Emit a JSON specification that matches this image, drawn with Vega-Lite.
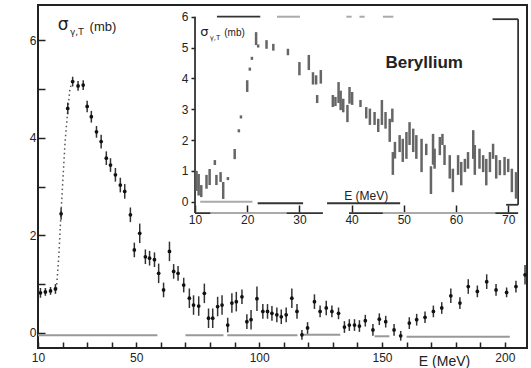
{
  "$schema": "https://vega.github.io/schema/vega-lite/v6.json",
  "width": 489,
  "height": 343,
  "autosize": {"type": "none"},
  "padding": {"left": 38, "top": 5, "right": 4, "bottom": 20},
  "background": "white",
  "config": {
    "view": {"stroke": "#222", "strokeWidth": 2},
    "axis": {"grid": false, "domain": false, "labelFont": "Liberation Sans", "labelFontSize": 12, "labelColor": "#222", "tickColor": "#222", "tickWidth": 1.5, "labelFlush": false, "labelOverlap": false, "labelBound": false}
  },
  "datasets": {
    "main": [
      {"E": 11.0, "y": 0.82, "lo": 0.72, "hi": 0.92}, {"E": 13.0, "y": 0.84, "lo": 0.76, "hi": 0.92},
      {"E": 15.1, "y": 0.86, "lo": 0.78, "hi": 0.94}, {"E": 17.1, "y": 0.9, "lo": 0.8, "hi": 1.0},
      {"E": 19.4, "y": 2.44, "lo": 2.32, "hi": 2.56}, {"E": 22.1, "y": 4.6, "lo": 4.48, "hi": 4.72},
      {"E": 24.1, "y": 5.15, "lo": 5.05, "hi": 5.25}, {"E": 26.3, "y": 5.06, "lo": 4.96, "hi": 5.16},
      {"E": 28.4, "y": 5.08, "lo": 4.98, "hi": 5.18}, {"E": 30.0, "y": 4.64, "lo": 4.52, "hi": 4.76},
      {"E": 31.7, "y": 4.43, "lo": 4.31, "hi": 4.55}, {"E": 33.8, "y": 4.12, "lo": 4.0, "hi": 4.24},
      {"E": 35.7, "y": 3.92, "lo": 3.78, "hi": 4.06}, {"E": 37.8, "y": 3.58, "lo": 3.44, "hi": 3.72},
      {"E": 39.5, "y": 3.44, "lo": 3.3, "hi": 3.58}, {"E": 41.5, "y": 3.24, "lo": 3.1, "hi": 3.38},
      {"E": 43.5, "y": 3.03, "lo": 2.88, "hi": 3.18}, {"E": 45.3, "y": 2.9, "lo": 2.75, "hi": 3.05},
      {"E": 47.6, "y": 2.42, "lo": 2.27, "hi": 2.57}, {"E": 49.2, "y": 1.7, "lo": 1.55, "hi": 1.85},
      {"E": 51.4, "y": 2.04, "lo": 1.84, "hi": 2.24}, {"E": 53.7, "y": 1.56, "lo": 1.41, "hi": 1.71},
      {"E": 55.4, "y": 1.53, "lo": 1.38, "hi": 1.68}, {"E": 57.4, "y": 1.5, "lo": 1.35, "hi": 1.65},
      {"E": 59.1, "y": 1.22, "lo": 1.02, "hi": 1.42}, {"E": 61.1, "y": 0.88, "lo": 0.73, "hi": 1.03},
      {"E": 63.5, "y": 1.67, "lo": 1.47, "hi": 1.87}, {"E": 65.2, "y": 1.26, "lo": 1.11, "hi": 1.41},
      {"E": 67.0, "y": 1.22, "lo": 1.07, "hi": 1.37}, {"E": 69.3, "y": 0.98, "lo": 0.83, "hi": 1.13},
      {"E": 71.6, "y": 0.71, "lo": 0.51, "hi": 0.91}, {"E": 73.3, "y": 0.57, "lo": 0.37, "hi": 0.77},
      {"E": 75.4, "y": 0.55, "lo": 0.35, "hi": 0.75}, {"E": 77.7, "y": 0.81, "lo": 0.61, "hi": 1.01},
      {"E": 79.4, "y": 0.3, "lo": 0.1, "hi": 0.5}, {"E": 81.1, "y": 0.3, "lo": 0.1, "hi": 0.5},
      {"E": 83.1, "y": 0.54, "lo": 0.34, "hi": 0.74}, {"E": 84.9, "y": 0.57, "lo": 0.37, "hi": 0.77},
      {"E": 87.2, "y": 0.16, "lo": 0.01, "hi": 0.31}, {"E": 88.9, "y": 0.61, "lo": 0.41, "hi": 0.81},
      {"E": 90.7, "y": 0.64, "lo": 0.44, "hi": 0.84}, {"E": 93.0, "y": 0.74, "lo": 0.59, "hi": 0.89},
      {"E": 95.0, "y": 0.23, "lo": 0.08, "hi": 0.38}, {"E": 96.7, "y": 0.27, "lo": 0.07, "hi": 0.47},
      {"E": 99.1, "y": 0.7, "lo": 0.45, "hi": 0.95}, {"E": 101.5, "y": 0.44, "lo": 0.29, "hi": 0.59},
      {"E": 103.4, "y": 0.44, "lo": 0.29, "hi": 0.59}, {"E": 105.2, "y": 0.4, "lo": 0.25, "hi": 0.55},
      {"E": 107.2, "y": 0.37, "lo": 0.22, "hi": 0.52}, {"E": 109.0, "y": 0.33, "lo": 0.18, "hi": 0.48},
      {"E": 111.0, "y": 0.37, "lo": 0.22, "hi": 0.52}, {"E": 113.3, "y": 0.71, "lo": 0.51, "hi": 0.91},
      {"E": 115.4, "y": 0.44, "lo": 0.29, "hi": 0.59}, {"E": 117.4, "y": -0.04, "lo": -0.14, "hi": 0.06},
      {"E": 119.7, "y": 0.1, "lo": -0.02, "hi": 0.22}, {"E": 122.5, "y": 0.64, "lo": 0.49, "hi": 0.79},
      {"E": 124.8, "y": 0.44, "lo": 0.32, "hi": 0.56}, {"E": 127.3, "y": 0.51, "lo": 0.36, "hi": 0.66},
      {"E": 129.6, "y": 0.44, "lo": 0.32, "hi": 0.56}, {"E": 132.3, "y": 0.4, "lo": 0.28, "hi": 0.52},
      {"E": 134.7, "y": 0.12, "lo": 0.0, "hi": 0.24}, {"E": 136.7, "y": 0.16, "lo": 0.04, "hi": 0.28},
      {"E": 138.8, "y": 0.16, "lo": 0.04, "hi": 0.28}, {"E": 140.8, "y": 0.14, "lo": 0.02, "hi": 0.26},
      {"E": 143.2, "y": 0.25, "lo": 0.13, "hi": 0.37}, {"E": 146.3, "y": 0.06, "lo": -0.06, "hi": 0.18},
      {"E": 148.9, "y": 0.28, "lo": 0.16, "hi": 0.4}, {"E": 151.5, "y": 0.23, "lo": 0.11, "hi": 0.35},
      {"E": 154.9, "y": 0.06, "lo": -0.06, "hi": 0.18}, {"E": 157.6, "y": -0.06, "lo": -0.16, "hi": 0.04},
      {"E": 161.1, "y": 0.2, "lo": 0.08, "hi": 0.32}, {"E": 164.1, "y": 0.27, "lo": 0.15, "hi": 0.39},
      {"E": 167.5, "y": 0.32, "lo": 0.2, "hi": 0.44}, {"E": 170.9, "y": 0.44, "lo": 0.32, "hi": 0.56},
      {"E": 174.3, "y": 0.51, "lo": 0.39, "hi": 0.63}, {"E": 178.0, "y": 0.76, "lo": 0.61, "hi": 0.91},
      {"E": 181.7, "y": 0.61, "lo": 0.49, "hi": 0.73}, {"E": 185.1, "y": 0.95, "lo": 0.8, "hi": 1.1},
      {"E": 188.8, "y": 0.85, "lo": 0.73, "hi": 0.97}, {"E": 192.6, "y": 1.05, "lo": 0.9, "hi": 1.2},
      {"E": 196.4, "y": 0.88, "lo": 0.76, "hi": 1.0}, {"E": 200.7, "y": 0.83, "lo": 0.73, "hi": 0.93},
      {"E": 204.5, "y": 0.95, "lo": 0.83, "hi": 1.07}, {"E": 208.2, "y": 1.19, "lo": 0.99, "hi": 1.39}
    ],
    "curve": [
      {"E": 17.5, "y": 0.9}, {"E": 18.5, "y": 1.6}, {"E": 19.3, "y": 2.4}, {"E": 20.2, "y": 3.2},
      {"E": 21.0, "y": 3.9}, {"E": 22.0, "y": 4.5}, {"E": 23.0, "y": 5.0}, {"E": 24.2, "y": 5.2}
    ],
    "base": [
      {"E1": 10, "E2": 58.6, "level": -0.05}, {"E1": 70, "E2": 85.5, "level": -0.05},
      {"E1": 87, "E2": 115.6, "level": -0.05}, {"E1": 117, "E2": 133, "level": -0.04},
      {"E1": 147, "E2": 153, "level": -0.07}, {"E1": 160, "E2": 202, "level": -0.08}
    ],
    "inset": [
      {"E": 10.3, "lo": 0.35, "hi": 1.0}, {"E": 10.7, "lo": 0.2, "hi": 0.9}, {"E": 11.2, "lo": 0.15, "hi": 0.54},
      {"E": 12.2, "lo": 0.42, "hi": 0.87}, {"E": 12.8, "lo": 0.54, "hi": 1.06}, {"E": 13.8, "lo": 1.19, "hi": 1.35},
      {"E": 14.1, "lo": 0.54, "hi": 0.87}, {"E": 14.9, "lo": 0.64, "hi": 0.96}, {"E": 15.4, "lo": 0.09, "hi": 0.64},
      {"E": 16.3, "lo": 0.7, "hi": 0.8}, {"E": 17.6, "lo": 1.38, "hi": 1.71}, {"E": 18.4, "lo": 2.25, "hi": 2.35},
      {"E": 18.8, "lo": 2.7, "hi": 2.8}, {"E": 20.0, "lo": 3.56, "hi": 3.94}, {"E": 20.5, "lo": 4.25, "hi": 4.35},
      {"E": 20.9, "lo": 4.6, "hi": 4.7}, {"E": 21.7, "lo": 5.08, "hi": 5.5}, {"E": 22.1, "lo": 5.0, "hi": 5.1},
      {"E": 23.7, "lo": 4.96, "hi": 5.24}, {"E": 25.0, "lo": 4.9, "hi": 5.12}, {"E": 27.8, "lo": 4.75, "hi": 4.96},
      {"E": 30.0, "lo": 4.1, "hi": 4.53}, {"E": 31.8, "lo": 4.27, "hi": 4.76}, {"E": 32.6, "lo": 3.8, "hi": 4.2},
      {"E": 33.2, "lo": 3.8, "hi": 4.1}, {"E": 33.4, "lo": 3.2, "hi": 3.46}, {"E": 34.1, "lo": 3.83, "hi": 4.27},
      {"E": 36.4, "lo": 3.07, "hi": 3.46}, {"E": 36.9, "lo": 3.1, "hi": 3.4}, {"E": 37.5, "lo": 3.2, "hi": 3.88},
      {"E": 37.9, "lo": 2.97, "hi": 3.6}, {"E": 38.4, "lo": 2.9, "hi": 3.34}, {"E": 39.2, "lo": 2.58, "hi": 3.14},
      {"E": 39.6, "lo": 3.18, "hi": 3.72}, {"E": 40.1, "lo": 3.14, "hi": 3.56}, {"E": 41.7, "lo": 3.07, "hi": 3.3},
      {"E": 42.8, "lo": 2.7, "hi": 3.07}, {"E": 43.5, "lo": 2.49, "hi": 3.02}, {"E": 44.4, "lo": 2.49, "hi": 2.91},
      {"E": 45.1, "lo": 2.26, "hi": 2.69}, {"E": 45.8, "lo": 2.49, "hi": 3.3}, {"E": 46.5, "lo": 2.37, "hi": 2.91},
      {"E": 47.3, "lo": 1.94, "hi": 2.69}, {"E": 47.8, "lo": 2.58, "hi": 3.02}, {"E": 47.9, "lo": 0.87, "hi": 1.61},
      {"E": 48.3, "lo": 1.4, "hi": 1.94}, {"E": 49.2, "lo": 1.61, "hi": 2.16}, {"E": 49.8, "lo": 1.29, "hi": 2.04},
      {"E": 50.5, "lo": 1.39, "hi": 2.26}, {"E": 51.1, "lo": 1.84, "hi": 2.58}, {"E": 51.8, "lo": 1.61, "hi": 2.37},
      {"E": 52.4, "lo": 1.39, "hi": 2.16}, {"E": 53.4, "lo": 0.96, "hi": 2.04}, {"E": 54.3, "lo": 1.51, "hi": 1.88},
      {"E": 55.2, "lo": 0.25, "hi": 1.15}, {"E": 55.6, "lo": 1.2, "hi": 2.2}, {"E": 55.9, "lo": 1.07, "hi": 1.72},
      {"E": 56.9, "lo": 1.51, "hi": 2.1}, {"E": 57.4, "lo": 1.84, "hi": 2.2}, {"E": 57.8, "lo": 1.19, "hi": 1.84},
      {"E": 58.8, "lo": 0.75, "hi": 1.51}, {"E": 59.4, "lo": 0.31, "hi": 1.07}, {"E": 60.4, "lo": 0.87, "hi": 1.51},
      {"E": 61.0, "lo": 0.53, "hi": 1.29}, {"E": 61.7, "lo": 0.96, "hi": 1.39}, {"E": 62.3, "lo": 1.07, "hi": 1.61},
      {"E": 63.3, "lo": 1.39, "hi": 2.32}, {"E": 63.6, "lo": 0.87, "hi": 1.84}, {"E": 64.5, "lo": 1.07, "hi": 1.72},
      {"E": 65.2, "lo": 0.96, "hi": 1.51}, {"E": 65.8, "lo": 0.53, "hi": 1.39}, {"E": 66.5, "lo": 0.96, "hi": 1.61},
      {"E": 67.1, "lo": 1.39, "hi": 1.88}, {"E": 67.7, "lo": 0.75, "hi": 1.51}, {"E": 68.4, "lo": 0.86, "hi": 1.35},
      {"E": 69.3, "lo": 0.86, "hi": 1.45}, {"E": 70.0, "lo": 0.96, "hi": 1.39}, {"E": 70.7, "lo": 0.31, "hi": 1.07},
      {"E": 71.5, "lo": 0.1, "hi": 0.96}
    ],
    "iframeDark": [
      {"x1": 10, "x2": 10, "y1": -0.37, "y2": 6.0},
      {"x1": 71.9, "x2": 71.9, "y1": -0.1, "y2": 5.92},
      {"x1": 67, "x2": 71.9, "y1": 5.92, "y2": 5.92},
      {"x1": 69.6, "x2": 71.9, "y1": -0.1, "y2": -0.1},
      {"x1": 14.2, "x2": 22.5, "y1": 6.0, "y2": 6.0},
      {"x1": 10, "x2": 13, "y1": -0.37, "y2": -0.37},
      {"x1": 27.5, "x2": 34.5, "y1": -0.37, "y2": -0.37},
      {"x1": 39.5, "x2": 46, "y1": -0.37, "y2": -0.37},
      {"x1": 67.5, "x2": 71.9, "y1": -0.37, "y2": -0.37},
      {"x1": 22, "x2": 30.7, "y1": -0.05, "y2": -0.05},
      {"x1": 35.3, "x2": 49.3, "y1": -0.05, "y2": -0.05}
    ],
    "iframeLight": [
      {"x1": 25.7, "x2": 30.1, "y1": 6.0, "y2": 6.0},
      {"x1": 39, "x2": 40, "y1": 6.0, "y2": 6.0},
      {"x1": 41.5, "x2": 42.5, "y1": 6.0, "y2": 6.0},
      {"x1": 46, "x2": 48, "y1": 6.0, "y2": 6.0},
      {"x1": 11, "x2": 21, "y1": 0.0, "y2": 0.0},
      {"x1": 13, "x2": 27.5, "y1": -0.37, "y2": -0.37},
      {"x1": 46, "x2": 67.5, "y1": -0.37, "y2": -0.37}
    ],
    "one": [{}]
  },
  "layer": [
    {
      "data": {"name": "base"},
      "mark": {"type": "rule", "color": "#999", "strokeWidth": 2},
      "encoding": {
        "x": {"field": "E1", "type": "quantitative", "scale": {"domain": [10, 209], "nice": false, "zero": false},
          "axis": {"orient": "bottom", "values": [10, 20, 30, 40, 50, 60, 70, 80, 90, 100, 110, 120, 130, 140, 150, 160, 170, 180, 190, 200],
            "labelExpr": "indexof([10, 50, 100, 150, 200], datum.value) >= 0 ? datum.label : ''",
            "tickSize": -6, "labelPadding": 10, "title": "E (MeV)", "titleX": 406, "titleY": 13,
            "titleAlign": "center", "titleBaseline": "middle", "titleFont": "Liberation Sans", "titleFontSize": 14,
            "titleFontWeight": "normal", "titleColor": "#222"}},
        "x2": {"field": "E2"},
        "y": {"field": "level", "type": "quantitative", "scale": {"domain": [-0.31, 6.72], "nice": false, "zero": false},
          "axis": {"orient": "left", "values": [0, 1, 2, 3, 4, 5, 6], "labelExpr": "datum.value % 2 === 0 ? datum.label : ''",
            "tickSize": -7, "labelPadding": 9, "title": null}}
      }
    },
    {
      "data": {"name": "curve"},
      "mark": {"type": "line", "strokeDash": [1.5, 3], "color": "#555", "strokeWidth": 1.5},
      "encoding": {
        "x": {"field": "E", "type": "quantitative", "scale": {"domain": [10, 209], "nice": false, "zero": false}, "axis": null},
        "y": {"field": "y", "type": "quantitative", "scale": {"domain": [-0.31, 6.72], "nice": false, "zero": false}, "axis": null}
      }
    },
    {
      "data": {"name": "main"},
      "mark": {"type": "rule", "color": "#333", "strokeWidth": 1.5},
      "encoding": {
        "x": {"field": "E", "type": "quantitative", "scale": {"domain": [10, 209], "nice": false, "zero": false}, "axis": null},
        "y": {"field": "lo", "type": "quantitative", "scale": {"domain": [-0.31, 6.72], "nice": false, "zero": false}, "axis": null},
        "y2": {"field": "hi"}
      }
    },
    {
      "data": {"name": "main"},
      "mark": {"type": "point", "filled": true, "size": 14, "color": "#111", "opacity": 1},
      "encoding": {
        "x": {"field": "E", "type": "quantitative", "scale": {"domain": [10, 209], "nice": false, "zero": false}, "axis": null},
        "y": {"field": "y", "type": "quantitative", "scale": {"domain": [-0.31, 6.72], "nice": false, "zero": false}, "axis": null}
      }
    },
    {
      "data": {"name": "one"},
      "mark": {"type": "text", "text": "σ", "font": "DejaVu Sans", "fontSize": 17, "color": "#222", "align": "center", "baseline": "middle"},
      "encoding": {
        "x": {"datum": 20.2, "type": "quantitative", "scale": {"domain": [10, 209], "nice": false, "zero": false}, "axis": null},
        "y": {"datum": 6.31, "type": "quantitative", "scale": {"domain": [-0.31, 6.72], "nice": false, "zero": false}, "axis": null}
      }
    },
    {
      "data": {"name": "one"},
      "mark": {"type": "text", "text": "γ,T", "font": "DejaVu Sans", "fontSize": 9, "color": "#222", "align": "left", "baseline": "middle"},
      "encoding": {
        "x": {"datum": 23.0, "type": "quantitative", "scale": {"domain": [10, 209], "nice": false, "zero": false}, "axis": null},
        "y": {"datum": 6.16, "type": "quantitative", "scale": {"domain": [-0.31, 6.72], "nice": false, "zero": false}, "axis": null}
      }
    },
    {
      "data": {"name": "one"},
      "mark": {"type": "text", "text": "(mb)", "font": "Liberation Sans", "fontSize": 13, "color": "#222", "align": "left", "baseline": "middle"},
      "encoding": {
        "x": {"datum": 31.0, "type": "quantitative", "scale": {"domain": [10, 209], "nice": false, "zero": false}, "axis": null},
        "y": {"datum": 6.27, "type": "quantitative", "scale": {"domain": [-0.31, 6.72], "nice": false, "zero": false}, "axis": null}
      }
    },
    {
      "data": {"name": "iframeDark"},
      "mark": {"type": "rule", "color": "#333", "strokeWidth": 1.8},
      "encoding": {
        "x": {"field": "x1", "type": "quantitative", "scale": {"domain": [-20.08, 73.6], "nice": false, "zero": false},
          "axis": {"orient": "bottom", "offset": -136, "values": [10, 20, 30, 40, 50, 60, 70], "tickSize": -7, "labelPadding": 9, "title": null}},
        "x2": {"field": "x2"},
        "y": {"field": "y1", "type": "quantitative", "scale": {"domain": [-4.745, 6.38], "nice": false, "zero": false},
          "axis": {"orient": "left", "offset": -157, "values": [0, 1, 2, 3, 4, 5, 6], "tickSize": 4, "labelPadding": 3, "title": null}},
        "y2": {"field": "y2"}
      }
    },
    {
      "data": {"name": "iframeLight"},
      "mark": {"type": "rule", "color": "#aaa", "strokeWidth": 2},
      "encoding": {
        "x": {"field": "x1", "type": "quantitative", "scale": {"domain": [-20.08, 73.6], "nice": false, "zero": false}, "axis": null},
        "x2": {"field": "x2"},
        "y": {"field": "y1", "type": "quantitative", "scale": {"domain": [-4.745, 6.38], "nice": false, "zero": false}, "axis": null},
        "y2": {"field": "y2"}
      }
    },
    {
      "data": {"name": "inset"},
      "mark": {"type": "rule", "color": "#666", "strokeWidth": 2.5},
      "encoding": {
        "x": {"field": "E", "type": "quantitative", "scale": {"domain": [-20.08, 73.6], "nice": false, "zero": false}, "axis": null},
        "y": {"field": "lo", "type": "quantitative", "scale": {"domain": [-4.745, 6.38], "nice": false, "zero": false}, "axis": null},
        "y2": {"field": "hi"}
      }
    },
    {
      "data": {"name": "one"},
      "mark": {"type": "text", "text": "σ", "font": "DejaVu Sans", "fontSize": 13, "color": "#222", "align": "center", "baseline": "middle"},
      "encoding": {
        "x": {"datum": 11.8, "type": "quantitative", "scale": {"domain": [-20.08, 73.6], "nice": false, "zero": false}, "axis": null},
        "y": {"datum": 5.5, "type": "quantitative", "scale": {"domain": [-4.745, 6.38], "nice": false, "zero": false}, "axis": null}
      }
    },
    {
      "data": {"name": "one"},
      "mark": {"type": "text", "text": "γ,T", "font": "DejaVu Sans", "fontSize": 7, "color": "#222", "align": "left", "baseline": "middle"},
      "encoding": {
        "x": {"datum": 12.8, "type": "quantitative", "scale": {"domain": [-20.08, 73.6], "nice": false, "zero": false}, "axis": null},
        "y": {"datum": 5.32, "type": "quantitative", "scale": {"domain": [-4.745, 6.38], "nice": false, "zero": false}, "axis": null}
      }
    },
    {
      "data": {"name": "one"},
      "mark": {"type": "text", "text": "(mb)", "font": "Liberation Sans", "fontSize": 10, "color": "#222", "align": "left", "baseline": "middle"},
      "encoding": {
        "x": {"datum": 15.6, "type": "quantitative", "scale": {"domain": [-20.08, 73.6], "nice": false, "zero": false}, "axis": null},
        "y": {"datum": 5.46, "type": "quantitative", "scale": {"domain": [-4.745, 6.38], "nice": false, "zero": false}, "axis": null}
      }
    },
    {
      "data": {"name": "one"},
      "mark": {"type": "text", "text": "Beryllium", "font": "Liberation Sans", "fontSize": 17, "fontWeight": "bold", "color": "#222", "align": "center", "baseline": "middle"},
      "encoding": {
        "x": {"datum": 53.9, "type": "quantitative", "scale": {"domain": [-20.08, 73.6], "nice": false, "zero": false}, "axis": null},
        "y": {"datum": 4.5, "type": "quantitative", "scale": {"domain": [-4.745, 6.38], "nice": false, "zero": false}, "axis": null}
      }
    },
    {
      "data": {"name": "one"},
      "mark": {"type": "text", "text": "E (MeV)", "font": "Liberation Sans", "fontSize": 12, "color": "#222", "align": "center", "baseline": "middle"},
      "encoding": {
        "x": {"datum": 42.8, "type": "quantitative", "scale": {"domain": [-20.08, 73.6], "nice": false, "zero": false}, "axis": null},
        "y": {"datum": 0.17, "type": "quantitative", "scale": {"domain": [-4.745, 6.38], "nice": false, "zero": false}, "axis": null}
      }
    }
  ],
  "resolve": {"scale": {"x": "independent", "y": "independent"}, "axis": {"x": "independent", "y": "independent"}}
}
